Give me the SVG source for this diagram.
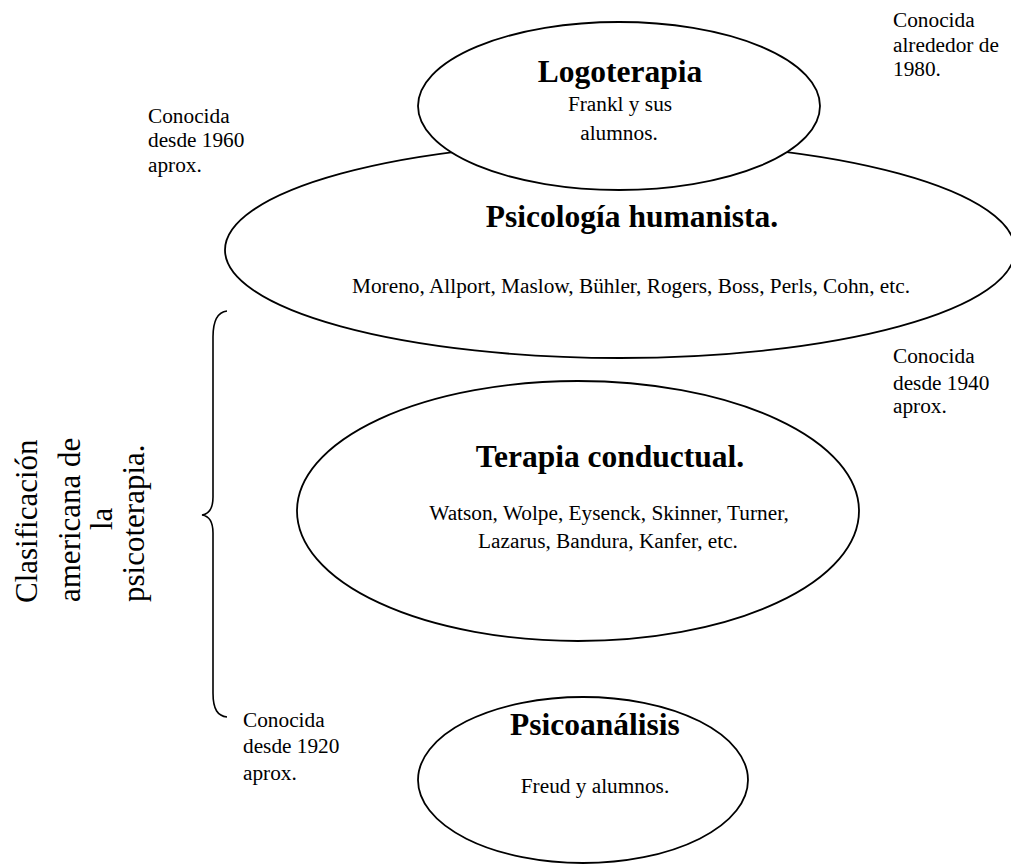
<svg xmlns="http://www.w3.org/2000/svg" width="1011" height="866" viewBox="0 0 1011 866">
  <style>
    text { font-family: "Liberation Serif", "Times New Roman", serif; fill: #000; }
    .title { font-size: 31.5px; font-weight: bold; text-anchor: middle; }
    .body { font-size: 21.3px; text-anchor: middle; }
    .note { font-size: 21.3px; }
    .side { font-size: 31px; }
    .shape { fill: #fff; stroke: #000; stroke-width: 1.8; }
    .brace { fill: none; stroke: #000; stroke-width: 1.6; }
  </style>
  <rect width="1011" height="866" fill="#fff"/>

  <!-- humanistic psychology (drawn first, logotherapy overlaps its top) -->
  <g id="humanista">
    <ellipse class="shape" cx="620" cy="250" rx="395" ry="108"/>
    <text class="title" x="632" y="227">Psicología humanista.</text>
    <text class="body" x="631" y="293">Moreno, Allport, Maslow, Bühler, Rogers, Boss, Perls, Cohn, etc.</text>
  </g>

  <g id="logoterapia">
    <ellipse class="shape" cx="619" cy="106" rx="201" ry="84"/>
    <text class="title" x="620" y="82">Logoterapia</text>
    <text class="body" x="620" y="111">Frankl y sus</text>
    <text class="body" x="619" y="140">alumnos.</text>
  </g>

  <g id="conductual">
    <ellipse class="shape" cx="578" cy="511" rx="281" ry="130"/>
    <text class="title" x="610" y="467">Terapia conductual.</text>
    <text class="body" x="609" y="520">Watson, Wolpe, Eysenck, Skinner, Turner,</text>
    <text class="body" x="608" y="548">Lazarus, Bandura, Kanfer, etc.</text>
  </g>

  <g id="psicoanalisis">
    <ellipse class="shape" cx="583" cy="780" rx="165" ry="83"/>
    <text class="title" x="595" y="735">Psicoanálisis</text>
    <text class="body" x="595" y="793">Freud y alumnos.</text>
  </g>

  <!-- date notes -->
  <g id="nota-1980">
    <text class="note" x="893" y="27">Conocida</text>
    <text class="note" x="893" y="52">alrededor de</text>
    <text class="note" x="893" y="76">1980.</text>
  </g>
  <g id="nota-1960">
    <text class="note" x="148" y="123">Conocida</text>
    <text class="note" x="148" y="147">desde 1960</text>
    <text class="note" x="148" y="172">aprox.</text>
  </g>
  <g id="nota-1940">
    <text class="note" x="893" y="363">Conocida</text>
    <text class="note" x="893" y="390">desde 1940</text>
    <text class="note" x="893" y="413">aprox.</text>
  </g>
  <g id="nota-1920">
    <text class="note" x="243" y="727">Conocida</text>
    <text class="note" x="243" y="753">desde 1920</text>
    <text class="note" x="243" y="780">aprox.</text>
  </g>

  <!-- bracket with vertical caption -->
  <g id="connectors">
    <path class="brace" d="M 227 311 C 218 312 213 320 213 337 L 213 497 C 213 508 209 514 202 515 C 209 516 213 522 213 533 L 213 693 C 213 710 218 716 227 717"/>
  </g>
  <g id="clasificacion">
    <text class="side" transform="translate(37,603) rotate(-90)">Clasificación</text>
    <text class="side" transform="translate(80,602) rotate(-90)">americana de</text>
    <text class="side" transform="translate(112,530) rotate(-90)">la</text>
    <text class="side" transform="translate(144,602) rotate(-90)">psicoterapia.</text>
  </g>
</svg>
